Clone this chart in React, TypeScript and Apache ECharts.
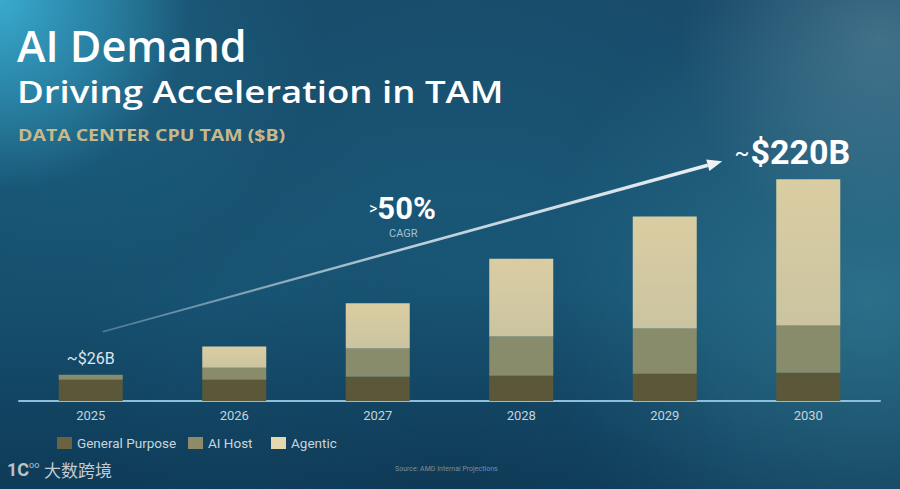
import React, { useEffect, useRef } from "react";
import * as echarts from "echarts";

const years = ["2025", "2026", "2027", "2028", "2029", "2030"];
const generalPurpose = [21, 21, 24, 25, 27, 28];
const aiHost = [5, 12, 28, 39, 45, 47];
const agentic = [0, 21, 45, 77, 111, 145];
const seriesNames = ["General Purpose", "AI Host", "Agentic"];
const titleLine1 = "AI Demand";
const titleLine2 = "Driving Acceleration in TAM";
const subtitle = "DATA CENTER CPU TAM ($B)";
const startLabel = "~$26B";
const endLabelTilde = "~";
const endLabelValue = "$220B";
const cagrValue = "50%";
const cagrPrefix = ">";
const cagrText = "CAGR";
const sourceText = "Source: AMD Internal Projections";

const totals = years.map((_, i) => generalPurpose[i] + aiHost[i] + agentic[i]);

function glow(cx: number, cy: number, r: number, color: string, a: number) {
  return {
    type: "circle",
    silent: true,
    z: -20,
    shape: { cx, cy, r },
    style: {
      fill: new echarts.graphic.RadialGradient(0.5, 0.5, 0.5, [
        { offset: 0, color: `rgba(${color},${a})` },
        { offset: 1, color: `rgba(${color},0)` },
      ]),
    },
  };
}

const legendColors = ["#6a6240", "#8e8b69", "#e5d8ae"];
const legendLefts = [57, 188, 271];

export default function App() {
  const ref = useRef<HTMLDivElement>(null);
  useEffect(() => {
    document.body.style.margin = "0";
    const chart = echarts.init(ref.current!, null, { renderer: "svg" });
    const condensed = "Roboto";
    const option: any = {
      animation: false,
      backgroundColor: new echarts.graphic.LinearGradient(0, 0, 0, 1, [
        { offset: 0, color: "#184b69" },
        { offset: 0.6, color: "#16506f" },
        { offset: 1, color: "#0e3b58" },
      ]),
      grid: { left: 19, right: 20, top: 149, bottom: 88, containLabel: false },
      xAxis: {
        type: "category",
        data: years,
        axisLine: { show: true, lineStyle: { color: "#8cc0da", width: 2 } },
        axisTick: { show: false },
        axisLabel: { color: "#c3d3dd", fontSize: 13, margin: 8, fontFamily: "Roboto" },
      },
      yAxis: { type: "value", min: 0, max: 250, show: false, splitLine: { show: false } },
      legend: seriesNames.map((name, i) => ({
        left: legendLefts[i],
        top: 436,
        padding: 0,
        itemWidth: 15,
        itemHeight: 12,
        icon: "rect",
        selectedMode: false,
        data: [{ name, itemStyle: { color: legendColors[i] } }],
        textStyle: { color: "#c9d5dc", fontSize: 13.5, fontFamily: "Roboto" },
      })),
      series: [
        {
          name: seriesNames[0],
          type: "bar",
          stack: "tam",
          barWidth: 64,
          data: generalPurpose,
          itemStyle: { color: "#5b5839" },
        },
        {
          name: seriesNames[1],
          type: "bar",
          stack: "tam",
          barWidth: 64,
          data: aiHost,
          itemStyle: { color: "#898c6a" },
        },
        {
          name: seriesNames[2],
          type: "bar",
          stack: "tam",
          barWidth: 64,
          data: agentic,
          itemStyle: {
            color: new echarts.graphic.LinearGradient(0, 0, 0, 1, [
              { offset: 0, color: "#dbcda2" },
              { offset: 1, color: "#cac4a0" },
            ]),
          },
        },
      ],
    };
    chart.setOption(option);

    const p0 = chart.convertToPixel({ gridIndex: 0 }, [0, totals[0]]) as number[];
    const p5 = chart.convertToPixel({ gridIndex: 0 }, [5, totals[5]]) as number[];

    // arrow geometry
    const sx = p0[0] + 12, sy = p0[1] - 43;
    const ex = p5[0] - 86, ey = p5[1] - 18;
    const dx = ex - sx, dy = ey - sy;
    const len = Math.sqrt(dx * dx + dy * dy);
    const ux = dx / len, uy = dy / len;
    const nx = -uy, ny = ux;
    const headLen = 15, headW = 6;
    const bx = ex - ux * headLen, by = ey - uy * headLen;
    const w0 = 0.8, w1 = 1.8;
    const body = [
      [sx + nx * w0, sy + ny * w0],
      [bx + nx * w1, by + ny * w1],
      [bx - nx * w1, by - ny * w1],
      [sx - nx * w0, sy - ny * w0],
    ];
    const head = [
      [ex, ey],
      [bx + nx * headW, by + ny * headW],
      [bx - nx * headW, by - ny * headW],
    ];

    const graphic: any[] = [
      glow(0, 0, 190, "70,200,235", 0.85),
      glow(60, 30, 260, "40,140,180", 0.35),
      glow(870, 300, 330, "70,150,170", 0.45),
      glow(880, 40, 200, "150,180,195", 0.3),
      glow(460, 290, 380, "35,110,145", 0.3),
      glow(450, 500, 300, "10,40,65", 0.35),
      {
        type: "text",
        x: 17,
        y: 22,
        scaleX: 0.98,
        style: {
          text: titleLine1,
          fill: "#ffffff",
          font: "600 44px 'Open Sans'",
          lineHeight: 46,
        },
      },
      {
        type: "text",
        x: 17,
        y: 74,
        scaleX: 1.18,
        style: {
          text: titleLine2,
          fill: "#ffffff",
          font: "600 31px 'Open Sans'",
          lineHeight: 34,
        },
      },
      {
        type: "text",
        x: 18,
        y: 126,
        scaleX: 1.22,
        style: {
          text: subtitle,
          fill: "#c9b98a",
          font: "bold 16px 'Open Sans'",
          lineHeight: 18,
        },
      },
      {
        type: "polygon",
        silent: true,
        shape: { points: body },
        style: {
          fill: new echarts.graphic.LinearGradient(sx, sy, ex, ey, [
            { offset: 0, color: "rgba(215,230,240,0.3)" },
            { offset: 0.5, color: "rgba(225,236,242,0.8)" },
            { offset: 1, color: "rgba(235,240,244,1)" },
          ], true),
        },
      },
      {
        type: "polygon",
        silent: true,
        shape: { points: head },
        style: { fill: "#eef2f5" },
      },
      {
        type: "text",
        x: p0[0],
        y: p0[1] - 8,
        style: {
          text: startLabel,
          fill: "#dde6ec",
          font: "16px " + condensed,
          align: "center",
          verticalAlign: "bottom",
        },
      },
      {
        type: "text",
        x: p5[0] + 42,
        y: p5[1] - 10,
        style: {
          text: `{t|${endLabelTilde}}{v|${endLabelValue}}`,
          align: "right",
          verticalAlign: "bottom",
          rich: {
            t: { fill: "#ffffff", fontSize: 22, fontFamily: condensed, padding: [0, 1, 0, 0] },
            v: { fill: "#ffffff", fontSize: 34, fontWeight: "bold", fontFamily: condensed },
          },
        },
      },
      {
        type: "text",
        left: 369,
        top: 193,
        style: {
          text: `{t|${cagrPrefix}}{v|${cagrValue}}`,
          rich: {
            t: { fill: "#ffffff", fontSize: 16, fontFamily: condensed },
            v: { fill: "#ffffff", fontSize: 31, fontWeight: "bold", fontFamily: condensed },
          },
        },
      },
      {
        type: "text",
        left: 389,
        top: 228,
        style: { text: cagrText, fill: "#a9bfcd", font: "11px " + condensed },
      },
      {
        type: "text",
        left: 395,
        top: 465,
        style: { text: sourceText, fill: "rgba(160,185,200,0.7)", font: "7px " + condensed },
      },
      {
        type: "text",
        left: 7,
        top: 460,
        style: {
          text: "{a|1C}{b|oo}",
          rich: {
            a: { fill: "#b9c3ca", fontSize: 18, fontWeight: "bold", fontFamily: "Roboto" },
            b: { fill: "#b9c3ca", fontSize: 9, fontFamily: "Roboto", verticalAlign: "top", padding: [0, 0, 8, 0] },
          },
        },
      },
      {
        type: "text",
        left: 44,
        top: 461,
        style: { text: "大数跨境", fill: "#c3ccd2", font: "17px 'Noto Sans CJK SC'" },
      },
    ];
    chart.setOption({ graphic });
    return () => chart.dispose();
  }, []);
  return <div ref={ref} style={{ position: "fixed", left: 0, top: 0, width: 900, height: 489 }} />;
}
